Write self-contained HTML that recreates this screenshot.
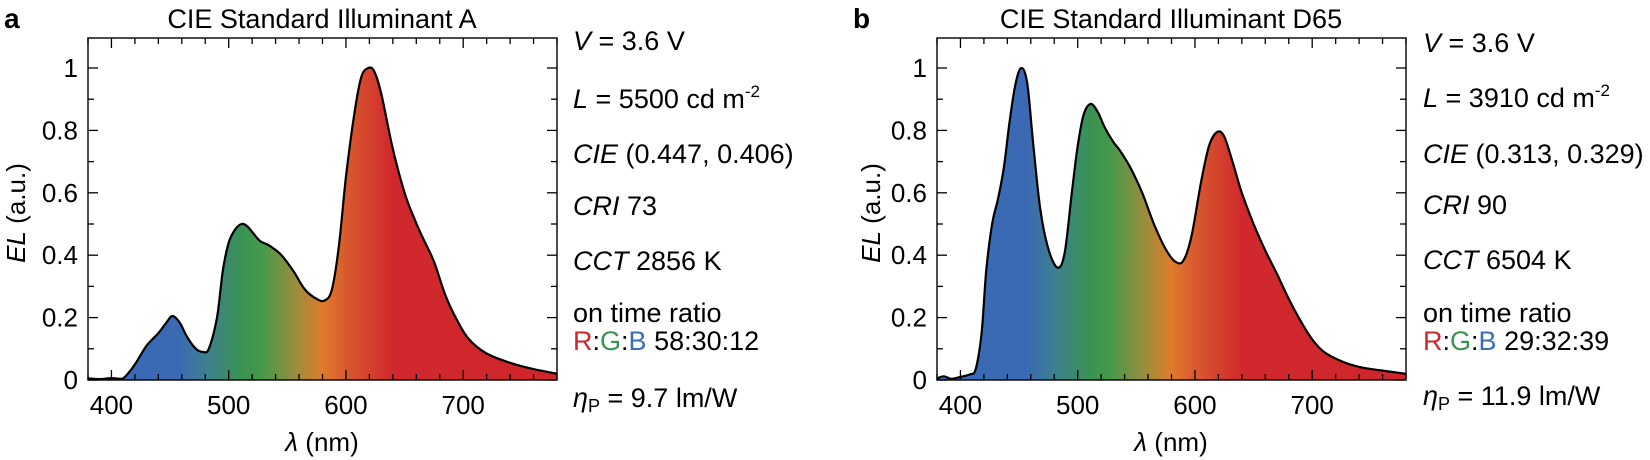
<!DOCTYPE html>
<html><head><meta charset="utf-8"><style>
html,body{margin:0;padding:0;background:#fff;}
svg{display:block;font-family:"Liberation Sans",Arial,sans-serif;}
</style></head><body>
<svg id="s" width="1650" height="460" viewBox="0 0 1650 460" xmlns="http://www.w3.org/2000/svg">
<defs>
<linearGradient id="ga" gradientUnits="userSpaceOnUse" x1="88" y1="0" x2="557" y2="0">
<stop offset="0" stop-color="#3a6cb8"/><stop offset="0.19" stop-color="#3b69b3"/><stop offset="0.25" stop-color="#3e7f92"/><stop offset="0.33" stop-color="#3a9350"/><stop offset="0.37" stop-color="#46994c"/><stop offset="0.45" stop-color="#a38b3a"/><stop offset="0.5" stop-color="#e07b2b"/><stop offset="0.55" stop-color="#d85a2e"/><stop offset="0.65" stop-color="#d0282c"/><stop offset="1" stop-color="#d0262b"/>
</linearGradient>
<linearGradient id="gb" gradientUnits="userSpaceOnUse" x1="937" y1="0" x2="1406" y2="0">
<stop offset="0" stop-color="#3a6cb8"/><stop offset="0.19" stop-color="#3b69b3"/><stop offset="0.25" stop-color="#3e7f92"/><stop offset="0.33" stop-color="#3a9350"/><stop offset="0.37" stop-color="#46994c"/><stop offset="0.45" stop-color="#a38b3a"/><stop offset="0.5" stop-color="#e07b2b"/><stop offset="0.55" stop-color="#d85a2e"/><stop offset="0.65" stop-color="#d0282c"/><stop offset="1" stop-color="#d0262b"/>
</linearGradient>
</defs>
<g id="pa"></g><g id="pb"></g>
<!-- panel labels and titles -->
<text x="4" y="28" font-size="28" font-weight="bold">a</text>
<text x="322" y="28" font-size="27" text-anchor="middle">CIE Standard Illuminant A</text>
<text x="853" y="28" font-size="28" font-weight="bold">b</text>
<text x="1171" y="28" font-size="27" text-anchor="middle">CIE Standard Illuminant D65</text>
<!-- axis labels -->
<text transform="translate(25,213) rotate(-90)" font-size="26" text-anchor="middle"><tspan font-style="italic">EL</tspan> (a.u.)</text>
<text transform="translate(880,213) rotate(-90)" font-size="26" text-anchor="middle"><tspan font-style="italic">EL</tspan> (a.u.)</text>
<text x="322" y="451" font-size="26" text-anchor="middle"><tspan font-style="italic">λ</tspan> (nm)</text>
<text x="1171" y="451" font-size="26" text-anchor="middle"><tspan font-style="italic">λ</tspan> (nm)</text>
<!-- right texts a -->
<g font-size="27">
<text x="573" y="50"><tspan font-style="italic">V</tspan> = 3.6 V</text>
<text x="573" y="108"><tspan font-style="italic">L</tspan> = 5500 cd m<tspan font-size="17" dy="-11">-2</tspan></text>
<text x="573" y="163"><tspan font-style="italic">CIE</tspan> (0.447, 0.406)</text>
<text x="573" y="215"><tspan font-style="italic">CRI</tspan> 73</text>
<text x="573" y="270"><tspan font-style="italic">CCT</tspan> 2856 K</text>
<text x="573" y="322">on time ratio</text>
<text x="573" y="350"><tspan fill="#d0262b">R</tspan>:<tspan fill="#3a9350">G</tspan>:<tspan fill="#3a6cb8">B</tspan> 58:30:12</text>
<text x="573" y="407"><tspan font-style="italic">η</tspan><tspan font-size="18" dy="5">P</tspan><tspan dy="-5"> = 9.7 lm/W</tspan></text>
</g>
<g font-size="27">
<text x="1423" y="52"><tspan font-style="italic">V</tspan> = 3.6 V</text>
<text x="1423" y="107"><tspan font-style="italic">L</tspan> = 3910 cd m<tspan font-size="17" dy="-11">-2</tspan></text>
<text x="1423" y="163"><tspan font-style="italic">CIE</tspan> (0.313, 0.329)</text>
<text x="1423" y="214"><tspan font-style="italic">CRI</tspan> 90</text>
<text x="1423" y="269"><tspan font-style="italic">CCT</tspan> 6504 K</text>
<text x="1423" y="322">on time ratio</text>
<text x="1423" y="350"><tspan fill="#d0262b">R</tspan>:<tspan fill="#3a9350">G</tspan>:<tspan fill="#3a6cb8">B</tspan> 29:32:39</text>
<text x="1423" y="405"><tspan font-style="italic">η</tspan><tspan font-size="18" dy="5">P</tspan><tspan dy="-5"> = 11.9 lm/W</tspan></text>
</g>
</svg>
<script>
const NS="http://www.w3.org/2000/svg";
const A=[[380,0.005],[390,0.003],[400,0.006],[408,0.004],[412,0.012],[420,0.05],[430,0.11],[440,0.15],[447,0.185],[452,0.205],[458,0.185],[465,0.135],[472,0.1],[478,0.09],[483,0.1],[490,0.2],[495,0.35],[500,0.44],[505,0.48],[511,0.5],[516,0.492],[521,0.47],[527,0.445],[535,0.43],[545,0.4],[555,0.35],[565,0.29],[575,0.26],[582,0.255],[588,0.29],[594,0.43],[600,0.65],[607,0.85],[613,0.97],[619,1.0],[624,0.99],[630,0.92],[640,0.74],[650,0.6],[658,0.52],[665,0.46],[675,0.38],[685,0.27],[695,0.19],[705,0.13],[720,0.085],[740,0.055],[760,0.035],[780,0.02]];
const B=[[380,0.005],[386,0.012],[392,0.004],[400,0.01],[408,0.018],[413,0.035],[418,0.15],[422,0.35],[427,0.5],[432,0.58],[437,0.68],[442,0.83],[447,0.95],[452,1.0],[457,0.95],[462,0.76],[468,0.55],[475,0.42],[483,0.36],[489,0.41],[495,0.6],[500,0.75],[505,0.85],[511,0.885],[517,0.86],[523,0.81],[530,0.765],[537,0.73],[545,0.68],[555,0.6],[565,0.5],[575,0.42],[583,0.38],[590,0.382],[597,0.46],[605,0.63],[612,0.75],[619,0.795],[625,0.78],[632,0.7],[640,0.6],[650,0.5],[660,0.415],[670,0.34],[680,0.26],[690,0.19],[700,0.13],[710,0.09],[725,0.06],[740,0.042],[760,0.03],[780,0.02]];
function el(t,a,p){const e=document.createElementNS(NS,t);for(const k in a)e.setAttribute(k,a[k]);p.appendChild(e);return e;}
function panel(gid,L,data,grad){
  const g=document.getElementById(gid);
  const R=L+469, T=38, Bt=380;
  const X=n=>L+(n-380)*469/400, Y=v=>Bt-v*312;
  const P=data.map(d=>[X(d[0]),Y(d[1])]);
  let d="M"+P[0][0].toFixed(1)+","+P[0][1].toFixed(1);
  for(let i=0;i<P.length-1;i++){
    const p0=P[Math.max(0,i-1)],p1=P[i],p2=P[i+1],p3=P[Math.min(P.length-1,i+2)];
    const c1=[p1[0]+(p2[0]-p0[0])/6,p1[1]+(p2[1]-p0[1])/6];
    const c2=[p2[0]-(p3[0]-p1[0])/6,p2[1]-(p3[1]-p1[1])/6];
    d+=" C"+c1.map(v=>v.toFixed(1))+" "+c2.map(v=>v.toFixed(1))+" "+p2.map(v=>v.toFixed(1));
  }
  el("path",{d:d+" L"+R+","+Bt+" L"+L+","+Bt+" Z",fill:"url(#"+grad+")"},g);
  el("path",{d:d,fill:"none",stroke:"#000","stroke-width":2.2,"stroke-linejoin":"round"},g);
  // ticks
  for(let n=380;n<=780;n+=20){
    const x=X(n), len=(n%100===0)?10:6;
    el("line",{x1:x,y1:Bt,x2:x,y2:Bt-len,stroke:"#000","stroke-width":1.3},g);
    el("line",{x1:x,y1:T,x2:x,y2:T+len,stroke:"#000","stroke-width":1.3},g);
    if(n%100===0&&n<780){const t=el("text",{x:x,y:Bt+34,"font-size":26,"text-anchor":"middle"},g);t.textContent=n;}
  }
  for(let k=0;k<=10;k++){
    const y=Y(k/10), len=(k%2===0)?10:6;
    el("line",{x1:L,y1:y,x2:L+len,y2:y,stroke:"#000","stroke-width":1.3},g);
    el("line",{x1:R,y1:y,x2:R-len,y2:y,stroke:"#000","stroke-width":1.3},g);
    if(k%2===0){const t=el("text",{x:L-10,y:y+9,"font-size":26,"text-anchor":"end"},g);t.textContent=k===0?"0":k===10?"1":(k/10).toFixed(1);}
  }
  el("rect",{x:L,y:T,width:R-L,height:Bt-T,fill:"none",stroke:"#000","stroke-width":1.4},g);
}
panel("pa",88,A,"ga");
panel("pb",937,B,"gb");
</script>
</body></html>
